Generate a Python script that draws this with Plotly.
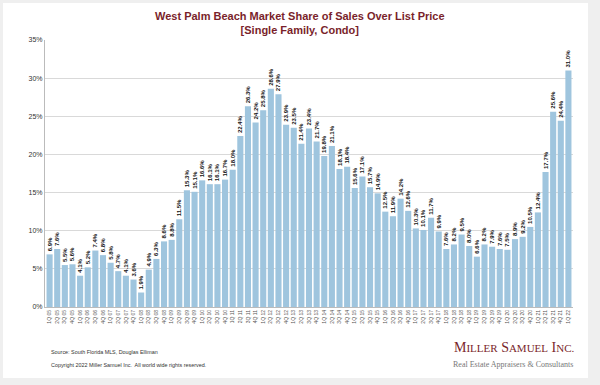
import plotly.graph_objects as go

quarters = []
for yr in range(5, 23):
    for q in range(1, 5):
        if yr == 22 and q > 1:
            break
        quarters.append(f"{q}Q {yr:02d}")

values = [6.9, 7.6, 5.5, 5.6, 4.1, 5.2, 7.4, 6.8, 5.8, 4.7, 4.1, 3.6,
          1.9, 4.9, 6.3, 8.6, 8.8, 11.5, 15.3, 15.1, 16.6, 16.1, 16.1, 16.7,
          18.0, 22.4, 26.3, 24.2, 25.8, 28.6, 27.9, 23.9, 23.5, 21.4, 23.4, 21.7,
          19.8, 21.1, 18.1, 18.4, 15.6, 17.1, 15.7, 14.9, 12.5, 11.9, 14.2, 12.6,
          10.3, 10.1, 11.7, 9.9, 7.6, 8.2, 9.5, 8.0, 6.6, 8.2, 7.9, 7.6,
          7.5, 8.9, 9.2, 10.5, 12.4, 17.7, 25.6, 24.4, 31.0]

ytick_vals = [0, 5, 10, 15, 20, 25, 30, 35]
ytick_text = [f"{v}%" for v in ytick_vals]

title_text = "West Palm Beach Market Share of Sales Over List Price<br>[Single Family, Condo]"
source_text = "Source: South Florida MLS, Douglas Elliman"
copyright_text = "Copyright 2022 Miller Samuel Inc.  All world wide rights reserved."

W, H = 600, 385
ml, mr, mt, mb = 45, 27, 40, 78
pw, ph = W - ml - mr, H - mt - mb

def px_x(p):
    return (p - ml) / pw

def px_y(p):
    return (H - mb - p) / ph

fig = go.Figure()
fig.add_trace(go.Bar(
    x=quarters, y=values,
    marker=dict(color="#9fc5de", line=dict(width=0)),
    text=[f"{v:.1f}%" for v in values],
    textposition="outside", textangle=-90,
    textfont=dict(family="Arial", size=6, color="#111111", weight="bold"),
    constraintext="none", cliponaxis=False,
    hoverinfo="x+y",
))

fig.update_layout(
    width=W, height=H,
    margin=dict(l=ml, r=mr, t=mt, b=mb),
    paper_bgcolor="#efefef", plot_bgcolor="white",
    bargap=0.2, showlegend=False,
    font=dict(family="Arial", color="#333333"),
    xaxis=dict(tickangle=-90, tickfont=dict(size=5, color="#555555"),
               showline=True, linecolor="#bbbbbb", linewidth=1,
               ticks="", showgrid=False, range=[-0.6, len(values) - 0.4]),
    yaxis=dict(range=[0, 35], tickvals=ytick_vals, ticktext=ytick_text,
               tickfont=dict(size=7, color="#333333"),
               showgrid=True, gridcolor="#d9d9d9", gridwidth=1,
               showline=True, linecolor="#bbbbbb", linewidth=1,
               zeroline=False, ticks=""),
    shapes=[dict(type="rect", xref="paper", yref="paper", layer="below",
                 x0=px_x(3), x1=px_x(588), y0=px_y(378), y1=px_y(3),
                 fillcolor="white", line=dict(width=0))],
    annotations=[
        dict(text=f"<b>{title_text}</b>", xref="paper", yref="paper",
             x=px_x(300), y=px_y(23), xanchor="center", yanchor="middle",
             showarrow=False, font=dict(family="Arial", size=11, color="#7a1f2b")),
        dict(text=source_text, xref="paper", yref="paper",
             x=px_x(49), y=px_y(352), xanchor="left", yanchor="middle",
             showarrow=False, font=dict(family="Arial", size=5.4, color="#333333")),
        dict(text=copyright_text, xref="paper", yref="paper",
             x=px_x(49), y=px_y(365), xanchor="left", yanchor="middle",
             showarrow=False, font=dict(family="Arial", size=5.4, color="#333333")),
        dict(text="M<span style='font-size:11px'>ILLER</span> S<span style='font-size:11px'>AMUEL</span> I<span style='font-size:11px'>NC.</span>",
             xref="paper", yref="paper",
             x=px_x(514), y=px_y(347), xanchor="center", yanchor="middle",
             showarrow=False, font=dict(family="Liberation Serif", size=14, color="#7a1f2b")),
        dict(text="Real Estate Appraisers &amp; Consultants", xref="paper", yref="paper",
             x=px_x(513), y=px_y(364), xanchor="center", yanchor="middle",
             showarrow=False, font=dict(family="Liberation Serif", size=8, color="#777777")),
    ],
)

fig.write_html("out.html", config={"displayModeBar": False},
               post_script="document.body.style.margin='0';")
